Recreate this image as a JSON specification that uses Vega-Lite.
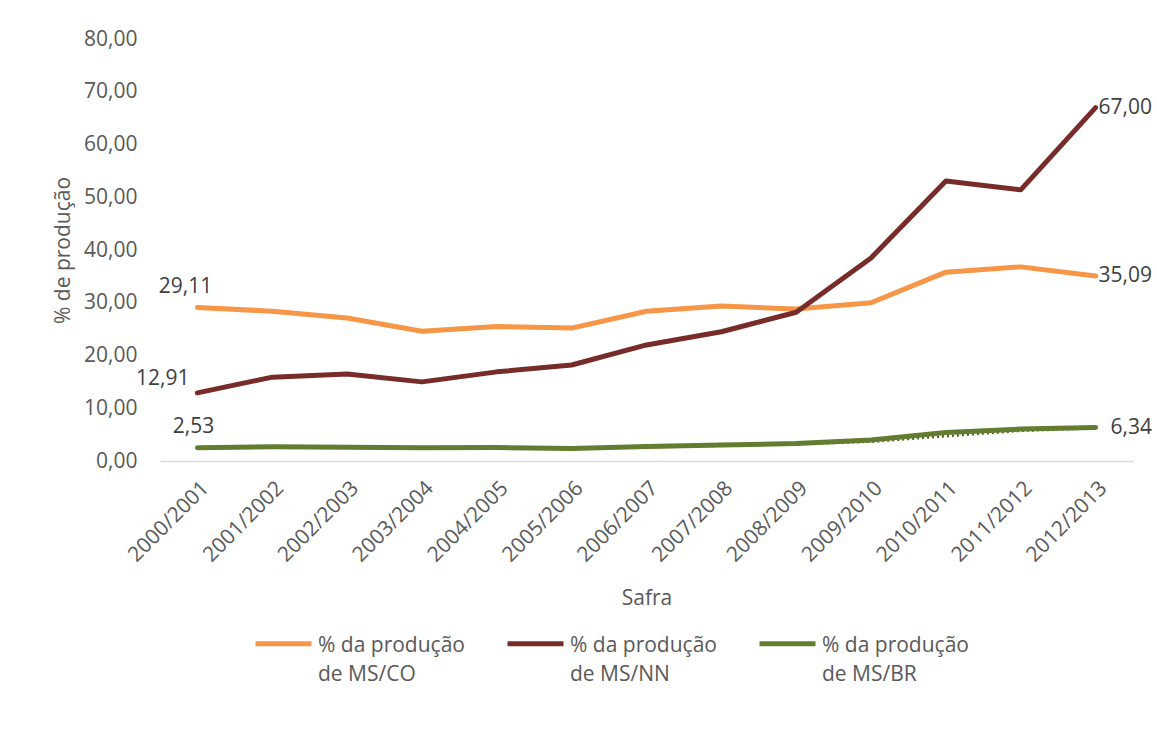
{
  "$schema": "https://vega.github.io/schema/vega-lite/v6.json",
  "width": 973,
  "height": 422,
  "autosize": {"type": "none"},
  "padding": {"left": 160, "top": 39, "right": 24, "bottom": 268},
  "background": "white",
  "datasets": {
    "main": [
      {"safra": "2000/2001", "serie": "% da produção|de MS/CO", "valor": 29.11},
      {"safra": "2001/2002", "serie": "% da produção|de MS/CO", "valor": 28.4},
      {"safra": "2002/2003", "serie": "% da produção|de MS/CO", "valor": 27.1},
      {"safra": "2003/2004", "serie": "% da produção|de MS/CO", "valor": 24.6},
      {"safra": "2004/2005", "serie": "% da produção|de MS/CO", "valor": 25.5},
      {"safra": "2005/2006", "serie": "% da produção|de MS/CO", "valor": 25.2},
      {"safra": "2006/2007", "serie": "% da produção|de MS/CO", "valor": 28.4},
      {"safra": "2007/2008", "serie": "% da produção|de MS/CO", "valor": 29.4},
      {"safra": "2008/2009", "serie": "% da produção|de MS/CO", "valor": 28.8},
      {"safra": "2009/2010", "serie": "% da produção|de MS/CO", "valor": 30.0},
      {"safra": "2010/2011", "serie": "% da produção|de MS/CO", "valor": 35.8},
      {"safra": "2011/2012", "serie": "% da produção|de MS/CO", "valor": 36.8},
      {"safra": "2012/2013", "serie": "% da produção|de MS/CO", "valor": 35.09},
      {"safra": "2000/2001", "serie": "% da produção|de MS/NN", "valor": 12.91},
      {"safra": "2001/2002", "serie": "% da produção|de MS/NN", "valor": 15.9},
      {"safra": "2002/2003", "serie": "% da produção|de MS/NN", "valor": 16.5},
      {"safra": "2003/2004", "serie": "% da produção|de MS/NN", "valor": 15.0},
      {"safra": "2004/2005", "serie": "% da produção|de MS/NN", "valor": 16.9},
      {"safra": "2005/2006", "serie": "% da produção|de MS/NN", "valor": 18.2},
      {"safra": "2006/2007", "serie": "% da produção|de MS/NN", "valor": 22.0},
      {"safra": "2007/2008", "serie": "% da produção|de MS/NN", "valor": 24.5},
      {"safra": "2008/2009", "serie": "% da produção|de MS/NN", "valor": 28.2},
      {"safra": "2009/2010", "serie": "% da produção|de MS/NN", "valor": 38.5},
      {"safra": "2010/2011", "serie": "% da produção|de MS/NN", "valor": 53.1},
      {"safra": "2011/2012", "serie": "% da produção|de MS/NN", "valor": 51.4},
      {"safra": "2012/2013", "serie": "% da produção|de MS/NN", "valor": 67.0},
      {"safra": "2000/2001", "serie": "% da produção|de MS/BR", "valor": 2.53},
      {"safra": "2001/2002", "serie": "% da produção|de MS/BR", "valor": 2.7},
      {"safra": "2002/2003", "serie": "% da produção|de MS/BR", "valor": 2.6},
      {"safra": "2003/2004", "serie": "% da produção|de MS/BR", "valor": 2.5},
      {"safra": "2004/2005", "serie": "% da produção|de MS/BR", "valor": 2.55},
      {"safra": "2005/2006", "serie": "% da produção|de MS/BR", "valor": 2.35},
      {"safra": "2006/2007", "serie": "% da produção|de MS/BR", "valor": 2.75},
      {"safra": "2007/2008", "serie": "% da produção|de MS/BR", "valor": 3.05},
      {"safra": "2008/2009", "serie": "% da produção|de MS/BR", "valor": 3.3},
      {"safra": "2009/2010", "serie": "% da produção|de MS/BR", "valor": 4.0},
      {"safra": "2010/2011", "serie": "% da produção|de MS/BR", "valor": 5.4},
      {"safra": "2011/2012", "serie": "% da produção|de MS/BR", "valor": 6.05},
      {"safra": "2012/2013", "serie": "% da produção|de MS/BR", "valor": 6.34}
    ],
    "tendencia": [
      {"safra": "2001/2002", "valor": 2.62},
      {"safra": "2002/2003", "valor": 2.65},
      {"safra": "2003/2004", "valor": 2.55},
      {"safra": "2004/2005", "valor": 2.52},
      {"safra": "2005/2006", "valor": 2.45},
      {"safra": "2006/2007", "valor": 2.55},
      {"safra": "2007/2008", "valor": 2.9},
      {"safra": "2008/2009", "valor": 3.18},
      {"safra": "2009/2010", "valor": 3.65},
      {"safra": "2010/2011", "valor": 4.7},
      {"safra": "2011/2012", "valor": 5.72},
      {"safra": "2012/2013", "valor": 6.2}
    ]
  },
  "encoding": {
    "x": {
      "field": "safra",
      "type": "ordinal",
      "sort": null,
      "scale": {
        "type": "point",
        "padding": 0.5,
        "domain": ["2000/2001", "2001/2002", "2002/2003", "2003/2004", "2004/2005", "2005/2006", "2006/2007", "2007/2008", "2008/2009", "2009/2010", "2010/2011", "2011/2012", "2012/2013"]
      },
      "axis": {
        "title": "Safra",
        "titleFontSize": 21,
        "titleFontWeight": "normal",
        "titleColor": "#595959",
        "titlePadding": 22,
        "labelAngle": -45,
        "labelFontSize": 21,
        "labelColor": "#595959",
        "labelPadding": 16,
        "ticks": false,
        "domainColor": "#D9D9D9",
        "domainWidth": 1.5,
        "grid": false
      }
    },
    "y": {
      "field": "valor",
      "type": "quantitative",
      "scale": {"domain": [0, 80], "nice": false},
      "axis": {
        "title": "% de produção",
        "titleFontSize": 21,
        "titleFontWeight": "normal",
        "titleColor": "#595959",
        "titlePadding": 10,
        "values": [0, 10, 20, 30, 40, 50, 60, 70, 80],
        "format": ".2f",
        "labelFontSize": 21,
        "labelColor": "#595959",
        "labelPadding": 23,
        "ticks": false,
        "domain": false,
        "grid": false
      }
    }
  },
  "layer": [
    {
      "data": {"name": "tendencia"},
      "mark": {"type": "line", "color": "#4F6228", "strokeWidth": 2.5, "strokeDash": [2, 3]},
      "encoding": {}
    },
    {
      "data": {"name": "main"},
      "mark": {"type": "line", "strokeWidth": 5, "strokeCap": "round", "strokeJoin": "round"},
      "encoding": {
        "color": {
          "field": "serie",
          "type": "nominal",
          "scale": {
            "domain": ["% da produção|de MS/CO", "% da produção|de MS/NN", "% da produção|de MS/BR"],
            "range": ["#F79646", "#772C2A", "#627D2F"]
          },
          "legend": {
            "title": null,
            "orient": "none",
            "direction": "horizontal",
            "columns": 3,
            "legendX": 93,
            "legendY": 565,
            "columnPadding": 32,
            "symbolType": "M-1,0.32L1,0.32",
            "symbolSize": 3136,
            "symbolStrokeWidth": 5,
            "labelFontSize": 21,
            "labelColor": "#595959",
            "labelLimit": 300,
            "labelOffset": 4,
            "labelBaseline": "top",
            "labelExpr": "split(datum.label, '|')"
          }
        }
      }
    },
    {
      "data": {"name": "main"},
      "transform": [{"filter": "datum.safra == '2000/2001' && datum.serie == '% da produção|de MS/CO'"}],
      "mark": {"type": "text", "fontSize": 21, "color": "#404040", "align": "center", "baseline": "alphabetic", "dx": -12, "dy": -14},
      "encoding": {"text": {"field": "valor", "type": "quantitative", "format": ".2f"}}
    },
    {
      "data": {"name": "main"},
      "transform": [{"filter": "datum.safra == '2000/2001' && datum.serie == '% da produção|de MS/BR'"}],
      "mark": {"type": "text", "fontSize": 21, "color": "#404040", "align": "center", "baseline": "alphabetic", "dx": -4, "dy": -15},
      "encoding": {"text": {"field": "valor", "type": "quantitative", "format": ".2f"}}
    },
    {
      "data": {"name": "main"},
      "transform": [{"filter": "datum.safra == '2000/2001' && datum.serie == '% da produção|de MS/NN'"}],
      "mark": {"type": "text", "fontSize": 21, "color": "#404040", "align": "right", "baseline": "middle", "dx": -8, "dy": -14},
      "encoding": {"text": {"field": "valor", "type": "quantitative", "format": ".2f"}}
    },
    {
      "data": {"name": "main"},
      "transform": [{"filter": "datum.safra == '2012/2013' && datum.serie != '% da produção|de MS/BR'"}],
      "mark": {"type": "text", "fontSize": 21, "color": "#404040", "align": "left", "baseline": "middle", "dx": 3},
      "encoding": {"text": {"field": "valor", "type": "quantitative", "format": ".2f"}}
    },
    {
      "data": {"name": "main"},
      "transform": [{"filter": "datum.safra == '2012/2013' && datum.serie == '% da produção|de MS/BR'"}],
      "mark": {"type": "text", "fontSize": 21, "color": "#404040", "align": "left", "baseline": "middle", "dx": 15},
      "encoding": {"text": {"field": "valor", "type": "quantitative", "format": ".2f"}}
    }
  ],
  "config": {
    "font": "Open Sans",
    "view": {"stroke": null},
    "locale": {
      "number": {"decimal": ",", "thousands": ".", "grouping": [3], "currency": ["R$", ""]}
    },
    "style": {"guide-label": {"lineHeight": 29}}
  }
}
